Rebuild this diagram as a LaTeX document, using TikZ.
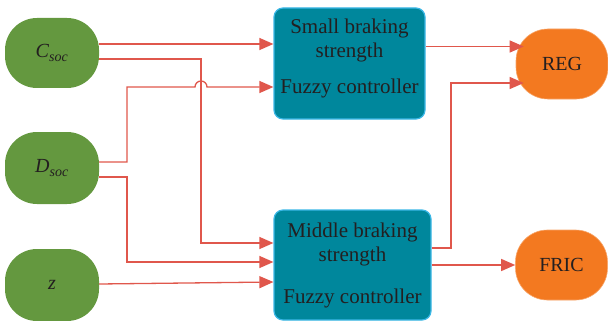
\documentclass[tikz,border=0pt]{standalone}
\usepackage{fontspec}
\setmainfont{Liberation Serif}
\usetikzlibrary{arrows.meta,calc}
\definecolor{ingreen}{HTML}{64983F}
\definecolor{boxteal}{HTML}{00879C}
\definecolor{boxedge}{HTML}{3BB7E6}
\definecolor{outorange}{HTML}{F37920}
\definecolor{orangeedge}{HTML}{F7A66B}
\definecolor{linkred}{HTML}{E0574C}
\definecolor{txt}{HTML}{231F20}
\tikzset{
  inputnode/.style={fill=ingreen, draw=none, rounded corners=32pt, minimum width=94pt, inner sep=0pt, text=txt, font=\fontsize{20}{24}\selectfont},
  outputnode/.style={fill=outorange, draw=orangeedge, line width=0.6pt, rounded corners=32pt, minimum width=92pt, minimum height=70pt, inner sep=0pt, text=txt, font=\fontsize{20}{24}\selectfont},
  ctrlbox/.style={fill=boxteal, draw=boxedge, line width=1.2pt, rounded corners=9pt, inner sep=0pt},
  ctrltext/.style={align=center, text=txt, font=\fontsize{21}{24}\selectfont, inner sep=0pt},
  link/.style={draw=linkred, line width=1.3pt},
  arr/.style={link, -{Triangle[length=14pt,width=12pt]}}
}
\begin{document}
\begin{tikzpicture}[x=1pt,y=-1pt]
\useasboundingbox (0,0) rectangle (608,321);
% input nodes
\node[inputnode, minimum height=70pt] (csoc) at (52,53) {\itshape C\textsubscript{soc}};
\node[inputnode, minimum height=72pt] (dsoc) at (52,168) {\itshape D\textsubscript{soc}};
\node[inputnode, minimum height=72pt] (z) at (52,285) {\itshape z};
% controllers
\node[ctrlbox, minimum width=151pt, minimum height=111pt] (sbox) at (349.5,63.5) {};
\node[ctrltext] (sboxt) at ([yshift=5pt]sbox.center) {Small braking\\strength\\[12pt]Fuzzy controller};
\node[ctrlbox, minimum width=157pt, minimum height=110pt] (mbox) at (352.5,265) {};
\node[ctrltext] (mboxt) at ([yshift=0pt]mbox.center) {Middle braking\\strength\\[18pt]Fuzzy controller};
% outputs
\node[outputnode] (reg) at (562,64) {REG};
\node[outputnode] (fric) at (561.5,265) {FRIC};
% helper coordinates
\coordinate (xa) at (201,0);
\coordinate (xb) at (127,0);
\coordinate (xc) at (451,0);
\coordinate (c1) at ([yshift=9pt]csoc.east);
\coordinate (c2) at ([yshift=-6pt]csoc.east);
\coordinate (d1) at ([yshift=6pt]dsoc.east);
\coordinate (d2) at ([yshift=-9pt]dsoc.east);
\coordinate (z1) at ([yshift=1pt]z.east);
\coordinate (s1) at ([yshift=19.5pt]sbox.west);
\coordinate (s2) at ([yshift=-23.5pt]sbox.west);
\coordinate (m1) at ([yshift=22pt]mbox.west);
\coordinate (m2) at ([yshift=3pt]mbox.west);
\coordinate (m3) at ([yshift=-17pt]mbox.west);
\coordinate (o1) at ([yshift=17pt]sbox.east);
\coordinate (o2) at ([yshift=17pt]mbox.east);
\coordinate (o3) at (mbox.east);
\coordinate (r1) at ([xshift=8pt,yshift=18pt]reg.west);
\coordinate (r2) at ([xshift=8pt,yshift=-19pt]reg.west);
% connectors
\draw[arr] (c1) -- (c1 -| s1);
\draw[arr] (c2) -- (c2 -| xa) -- (xa |- m1) -- (m1);
\draw[arr] (d1) -- (d1 -| xb) -- (xb |- s2) -- ([xshift=-6pt]xa |- s2) arc[start angle=180, end angle=360, radius=6] -- (s2);
\draw[arr] (d2) -- (d2 -| xb) -- (xb |- m2) -- (m2);
\draw[arr] (z1) -- (m3);
\draw[arr] (o1) -- (o1 -| r1);
\draw[arr] (o2) -- (o2 -| xc) -- (xc |- r2) -- (r2);
\draw[arr] (o3) -- (fric.west);
\end{tikzpicture}
\end{document}
